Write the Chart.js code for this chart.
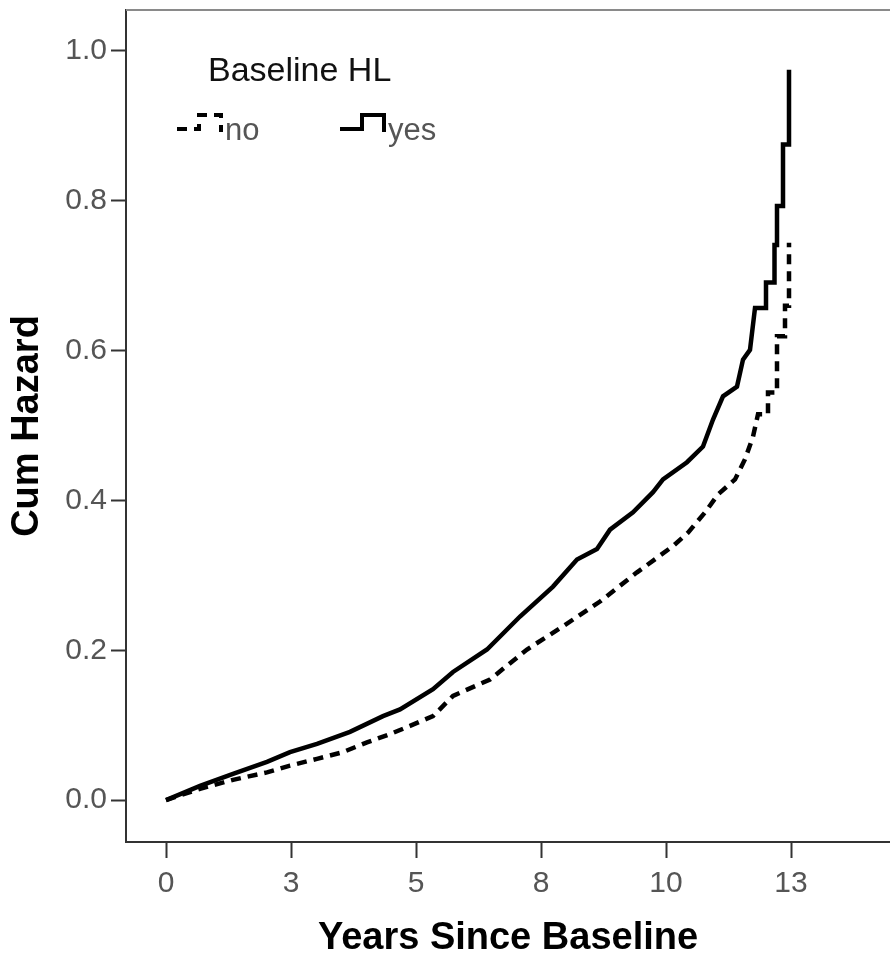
<!DOCTYPE html>
<html>
<head>
<meta charset="utf-8">
<script src="https://cdn.jsdelivr.net/npm/chart.js@4"></script>
<style>
  html, body { margin: 0; padding: 0; background: #fff; }
  #wrap { width: 890px; height: 955px; position: relative; }
</style>
</head>
<body>
<div id="wrap"><canvas id="c"></canvas></div>
<script>
// ---- data ----
const seriesLabels = ['no', 'yes'];
const legendTitle = 'Baseline HL';
const xAxisTitle = 'Years Since Baseline';
const yAxisTitle = 'Cum Hazard';

const xTickValues = [0, 2.5, 5, 7.5, 10, 12.5];
const xTickLabels = ['0', '3', '5', '8', '10', '13'];
const yTickValues = [0, 0.2, 0.4, 0.6, 0.8, 1.0];
const yTickLabels = ['0.0', '0.2', '0.4', '0.6', '0.8', '1.0'];

// HL = no (dashed)
const noTime   = [0, 0.68, 1.34, 2.02, 2.48, 3.02, 3.54, 4.02, 4.48, 4.88, 5.34, 5.74, 6.48, 7.22, 7.94, 8.68, 9.42, 10.14, 10.44, 10.78, 11.04, 11.38, 11.58, 11.74, 11.84, 12.04, 12.04, 12.22, 12.22, 12.38, 12.38, 12.46, 12.46];
const noHazard = [0, 0.015, 0.027, 0.037, 0.046, 0.055, 0.064, 0.077, 0.088, 0.099, 0.112, 0.139, 0.161, 0.201, 0.232, 0.265, 0.304, 0.339, 0.357, 0.384, 0.408, 0.428, 0.455, 0.485, 0.515, 0.515, 0.544, 0.544, 0.619, 0.619, 0.660, 0.660, 0.744];

// HL = yes (solid)
const yesTime   = [0, 0.68, 1.34, 2.02, 2.48, 3.02, 3.68, 4.34, 4.68, 5.34, 5.74, 6.42, 7.08, 7.74, 8.22, 8.62, 8.88, 9.34, 9.74, 9.94, 10.42, 10.74, 10.94, 11.14, 11.42, 11.54, 11.68, 11.78, 12.0, 12.0, 12.17, 12.17, 12.22, 12.22, 12.34, 12.34, 12.46, 12.46];
const yesHazard = [0, 0.019, 0.035, 0.051, 0.064, 0.075, 0.091, 0.112, 0.121, 0.148, 0.171, 0.201, 0.245, 0.285, 0.321, 0.335, 0.361, 0.384, 0.411, 0.428, 0.451, 0.472, 0.508, 0.539, 0.552, 0.588, 0.601, 0.657, 0.657, 0.691, 0.691, 0.741, 0.741, 0.793, 0.793, 0.875, 0.875, 0.975];

const toPoints = (xs, ys) => xs.map((x, i) => ({ x: x, y: ys[i] }));

const FONT = '"Liberation Sans", Arial, sans-serif';
const DASH = [10, 7];

const frameAndLegend = {
  id: 'frameAndLegend',
  afterDraw(chart) {
    const { ctx, chartArea: a } = chart;
    ctx.save();
    // top frame line
    ctx.strokeStyle = '#8a8a8a';
    ctx.lineWidth = 2;
    ctx.beginPath();
    ctx.moveTo(a.left, a.top);
    ctx.lineTo(a.right, a.top);
    ctx.stroke();

    // legend
    const lx = a.left, ly = a.top;
    ctx.fillStyle = '#111';
    ctx.textBaseline = 'middle';
    ctx.textAlign = 'left';
    ctx.font = '34px ' + FONT;
    ctx.fillText(legendTitle, lx + 82, ly + 62);

    const items = [
      { label: seriesLabels[0], x0: lx + 51, dash: DASH },
      { label: seriesLabels[1], x0: lx + 214, dash: [] }
    ];
    ctx.font = '31px ' + FONT;
    items.forEach(it => {
      const y0 = ly + 119;
      ctx.strokeStyle = '#000';
      ctx.lineWidth = 4;
      ctx.lineCap = 'butt';
      ctx.lineJoin = 'miter';
      ctx.setLineDash(it.dash);
      ctx.beginPath();
      ctx.moveTo(it.x0, y0);
      ctx.lineTo(it.x0 + 22, y0);
      ctx.lineTo(it.x0 + 22, y0 - 14);
      ctx.lineTo(it.x0 + 44, y0 - 14);
      ctx.lineTo(it.x0 + 44, y0 + 3);
      ctx.stroke();
      ctx.setLineDash([]);
      ctx.fillStyle = '#555';
      ctx.fillText(it.label, it.x0 + 48, y0 + 2);
    });
    ctx.restore();
  }
};

new Chart(document.getElementById('c'), {
  type: 'scatter',
  data: {
    datasets: [
      {
        label: seriesLabels[0],
        data: toPoints(noTime, noHazard),
        showLine: true,
        borderColor: '#000',
        backgroundColor: '#000',
        borderWidth: 4.5,
        borderDash: DASH,
        pointRadius: 0,
        tension: 0
      },
      {
        label: seriesLabels[1],
        data: toPoints(yesTime, yesHazard),
        showLine: true,
        borderColor: '#000',
        backgroundColor: '#000',
        borderWidth: 4.5,
        pointRadius: 0,
        tension: 0
      }
    ]
  },
  options: {
    responsive: true,
    maintainAspectRatio: false,
    animation: false,
    layout: { padding: { top: 10, right: 0, left: 0, bottom: 0 } },
    plugins: {
      legend: { display: false },
      tooltip: { enabled: false }
    },
    scales: {
      x: {
        type: 'linear',
        min: -0.8,
        max: 14.48,
        afterFit(s) { s.height = 113; s.paddingLeft = 0; s.paddingRight = 0; },
        afterBuildTicks(s) { s.ticks = xTickValues.map(v => ({ value: v })); },
        ticks: {
          autoSkip: false,
          maxRotation: 0,
          padding: 8,
          color: '#555',
          font: { family: FONT, size: 30 },
          callback(v) { const i = xTickValues.indexOf(v); return i >= 0 ? xTickLabels[i] : ''; }
        },
        grid: { drawOnChartArea: false, drawTicks: true, tickLength: 16, tickColor: '#333', tickWidth: 2 },
        border: { display: true, color: '#333', width: 2 },
        title: {
          display: true,
          text: xAxisTitle,
          color: '#000',
          font: { family: FONT, size: 38, weight: 'bold', lineHeight: 1 },
          padding: { top: 0, bottom: -3 }
        }
      },
      y: {
        type: 'linear',
        min: -0.056,
        max: 1.0547,
        afterFit(s) { s.width = 126; s.paddingTop = 0; s.paddingBottom = 0; },
        afterBuildTicks(s) { s.ticks = yTickValues.map(v => ({ value: v })); },
        ticks: {
          autoSkip: false,
          padding: 4,
          color: '#555',
          font: { family: FONT, size: 30 },
          callback(v) { const i = yTickValues.findIndex(t => Math.abs(t - v) < 1e-9); return i >= 0 ? yTickLabels[i] : ''; }
        },
        grid: { drawOnChartArea: false, drawTicks: true, tickLength: 15, tickColor: '#333', tickWidth: 2 },
        border: { display: true, color: '#333', width: 2 },
        title: {
          display: true,
          text: yAxisTitle,
          color: '#000',
          font: { family: FONT, size: 38, weight: 'bold', lineHeight: 1 },
          padding: { top: 9, bottom: 0 }
        }
      }
    }
  },
  plugins: [frameAndLegend]
});
</script>
</body>
</html>
